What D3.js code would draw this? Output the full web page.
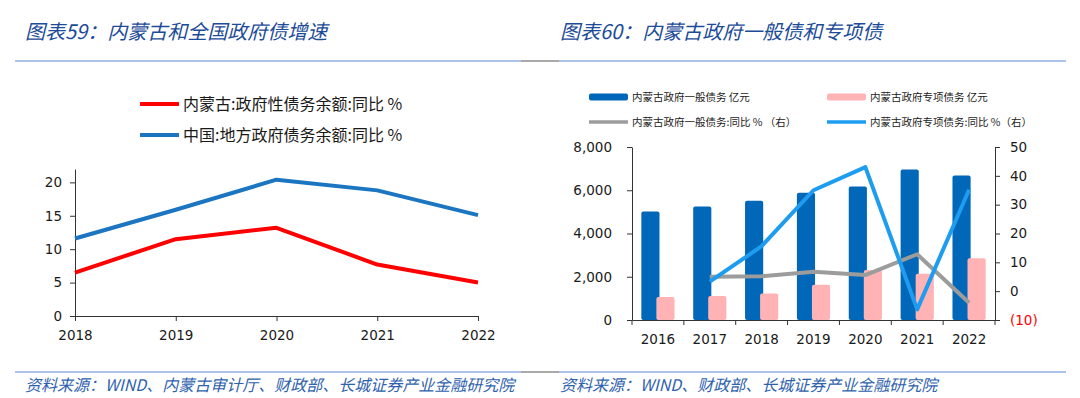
<!DOCTYPE html>
<html>
<head>
<meta charset="utf-8">
<script src="https://cdn.jsdelivr.net/npm/d3@7"></script>
<style>
  body { margin: 0; background: #fff; }
  svg { display: block; }
  .cjk { font-family: "Noto Sans CJK SC", sans-serif; }
  .axis text { font-family: "DejaVu Sans", sans-serif; font-size: 13.5px; fill: #1a1a1a; }
  .axis path, .axis line { stroke: #333; }
</style>
</head>
<body>
<svg id="chart" width="1080" height="398"></svg>
<script>
// left chart data
const leftYears = ["2018", "2019", "2020", "2021", "2022"];
const nmgDebtYoY = [6.5, 11.5, 13.2, 7.7, 5.0];
const cnDebtYoY = [11.6, 15.9, 20.4, 18.8, 15.1];

// right chart data
const rightYears = ["2016", "2017", "2018", "2019", "2020", "2021", "2022"];
const generalDebt = [5020, 5250, 5510, 5880, 6170, 6955, 6680];
const specialDebt = [1060, 1110, 1230, 1630, 2310, 2140, 2860];
const generalYoY = [null, 5.0, 5.2, 6.7, 5.6, 12.8, -4.0];
const specialYoY = [null, 3.3, 15.6, 35.0, 43.0, -6.3, 35.2];

const leftTicks = [0, 5, 10, 15, 20];
const rightTicksL = [0, 2000, 4000, 6000, 8000];
const rightTicksR = [-10, 0, 10, 20, 30, 40, 50];

const svg = d3.select("#chart");
svg.append("rect").attr("width", 1080).attr("height", 398).attr("fill", "#fff");

// titles, header and footer lines
const titleColor = "#1c4b98";
const footColor = "#2f62ad";
svg.append("text").attr("class", "cjk").attr("x", 25).attr("y", 39)
   .attr("font-size", 20).attr("font-style", "italic").attr("fill", titleColor)
   .text("图表59：内蒙古和全国政府债增速");
svg.append("text").attr("class", "cjk").attr("x", 560).attr("y", 39)
   .attr("font-size", 20).attr("font-style", "italic").attr("fill", titleColor)
   .text("图表60：内蒙古政府一般债和专项债");

[61, 372].forEach(y => {
  svg.append("line").attr("x1", 15).attr("x2", 521).attr("y1", y).attr("y2", y)
     .attr("stroke", "#5a8ad0").attr("stroke-width", 1.2);
  svg.append("line").attr("x1", 521).attr("x2", 559).attr("y1", y).attr("y2", y)
     .attr("stroke", "#555").attr("stroke-width", 1.2);
  svg.append("line").attr("x1", 559).attr("x2", 1066).attr("y1", y).attr("y2", y)
     .attr("stroke", "#5a8ad0").attr("stroke-width", 1.2);
});

svg.append("text").attr("class", "cjk").attr("x", 25).attr("y", 391)
   .attr("font-size", 16).attr("font-style", "italic").attr("fill", footColor)
   .text("资料来源：WIND、内蒙古审计厅、财政部、长城证券产业金融研究院");
svg.append("text").attr("class", "cjk").attr("x", 560).attr("y", 391)
   .attr("font-size", 16).attr("font-style", "italic").attr("fill", footColor)
   .text("资料来源：WIND、财政部、长城证券产业金融研究院");

// ---------- left chart ----------
const xL = d3.scalePoint().domain(leftYears).range([75, 478]);
const yL = d3.scaleLinear().domain([0, 22]).range([316, 169]);

svg.append("g").attr("class", "axis").attr("transform", "translate(75,0)")
   .call(d3.axisLeft(yL).tickValues(leftTicks).tickSize(5).tickSizeOuter(0).tickPadding(8));
svg.append("g").attr("class", "axis").attr("transform", "translate(0,316)")
   .call(d3.axisBottom(xL).tickSize(5).tickSizeOuter(0).tickPadding(9));

const leftSeries = [
  { name: "内蒙古:政府性债务余额:同比 %", values: nmgDebtYoY, color: "#ff0000" },
  { name: "中国:地方政府债务余额:同比 %", values: cnDebtYoY, color: "#1c75c0" }
];
const lineL = d3.line().x((d, i) => xL(leftYears[i])).y(d => yL(d));
leftSeries.forEach(s => {
  svg.append("path").datum(s.values).attr("d", lineL)
     .attr("fill", "none").attr("stroke", s.color).attr("stroke-width", 4)
     .attr("stroke-linejoin", "round");
});

const legL = svg.append("g");
leftSeries.forEach((s, i) => {
  const y = 104 + i * 31;
  legL.append("line").attr("x1", 140).attr("x2", 179).attr("y1", y).attr("y2", y)
      .attr("stroke", s.color).attr("stroke-width", 4);
  legL.append("text").attr("class", "cjk").attr("x", 183).attr("y", y + 6)
      .attr("font-size", 16).attr("fill", "#1a1a1a").text(s.name);
});

// ---------- right chart ----------
const xR = d3.scaleBand().domain(rightYears).range([632, 995]);
const bw = xR.bandwidth();
const yR = d3.scaleLinear().domain([0, 8000]).range([320, 147]);
const yR2 = d3.scaleLinear().domain([-10, 50]).range([320, 147]);

const gBars = svg.append("g");
gBars.selectAll(".gen").data(generalDebt).enter().append("rect")
   .attr("x", (d, i) => xR(rightYears[i]) + bw * 0.18)
   .attr("width", bw * 0.35)
   .attr("y", d => yR(d)).attr("height", d => yR(0) - yR(d))
   .attr("rx", 2).attr("fill", "#0067b9");
gBars.selectAll(".spe").data(specialDebt).enter().append("rect")
   .attr("x", (d, i) => xR(rightYears[i]) + bw * 0.47)
   .attr("width", bw * 0.35)
   .attr("y", d => yR(d)).attr("height", d => yR(0) - yR(d))
   .attr("rx", 2).attr("fill", "#ffb3b5");

const lineR = d3.line().defined(d => d != null)
   .x((d, i) => xR(rightYears[i]) + bw / 2).y(d => yR2(d));
svg.append("path").datum(generalYoY).attr("d", lineR)
   .attr("fill", "none").attr("stroke", "#9c9c9c").attr("stroke-width", 4)
   .attr("stroke-linejoin", "round");
svg.append("path").datum(specialYoY).attr("d", lineR)
   .attr("fill", "none").attr("stroke", "#1e9cf0").attr("stroke-width", 4)
   .attr("stroke-linejoin", "round");

svg.append("g").attr("class", "axis").attr("transform", "translate(632,0)")
   .call(d3.axisLeft(yR).tickValues(rightTicksL).tickSize(5).tickSizeOuter(0)
   .tickPadding(15).tickFormat(d3.format(",")));
const axR = svg.append("g").attr("class", "axis").attr("transform", "translate(995,0)")
   .call(d3.axisRight(yR2).tickValues(rightTicksR).tickSize(5).tickSizeOuter(0)
   .tickPadding(10).tickFormat(d => d < 0 ? `(${-d})` : d));
axR.selectAll(".tick text").style("fill", d => d < 0 ? "#ff0000" : "#1a1a1a");

const axB = svg.append("g").attr("class", "axis").attr("transform", "translate(0,320)")
   .call(d3.axisBottom(xR).tickSize(0).tickSizeOuter(0).tickPadding(14));
// category boundary ticks
axB.selectAll(".bound").data(rightYears.map(d => xR(d)).concat([xR.range()[1]]))
   .enter().append("line").attr("class", "bound")
   .attr("x1", d => d).attr("x2", d => d).attr("y1", 0).attr("y2", 5).attr("stroke", "#333");

// right legend
const legR = [
  { name: "内蒙古政府一般债务 亿元", color: "#0067b9", type: "rect" },
  { name: "内蒙古政府专项债务 亿元", color: "#ffb3b5", type: "rect" },
  { name: "内蒙古政府一般债务:同比 % （右）", color: "#9c9c9c", type: "line" },
  { name: "内蒙古政府专项债务:同比 %（右）", color: "#1e9cf0", type: "line" }
];
const legG = svg.append("g");
legR.forEach((s, i) => {
  const x = i % 2 === 0 ? 589 : 827;
  const y = i < 2 ? 97 : 122;
  if (s.type === "rect") {
    legG.append("rect").attr("x", x).attr("y", y - 3.5).attr("width", 39).attr("height", 7)
        .attr("rx", 2).attr("fill", s.color);
  } else {
    legG.append("line").attr("x1", x).attr("x2", x + 39).attr("y1", y).attr("y2", y)
        .attr("stroke", s.color).attr("stroke-width", 3.5);
  }
  legG.append("text").attr("class", "cjk").attr("x", x + 43).attr("y", y + 4)
      .attr("font-size", 10.5).attr("fill", "#1a1a1a").text(s.name);
});
</script>
</body>
</html>
